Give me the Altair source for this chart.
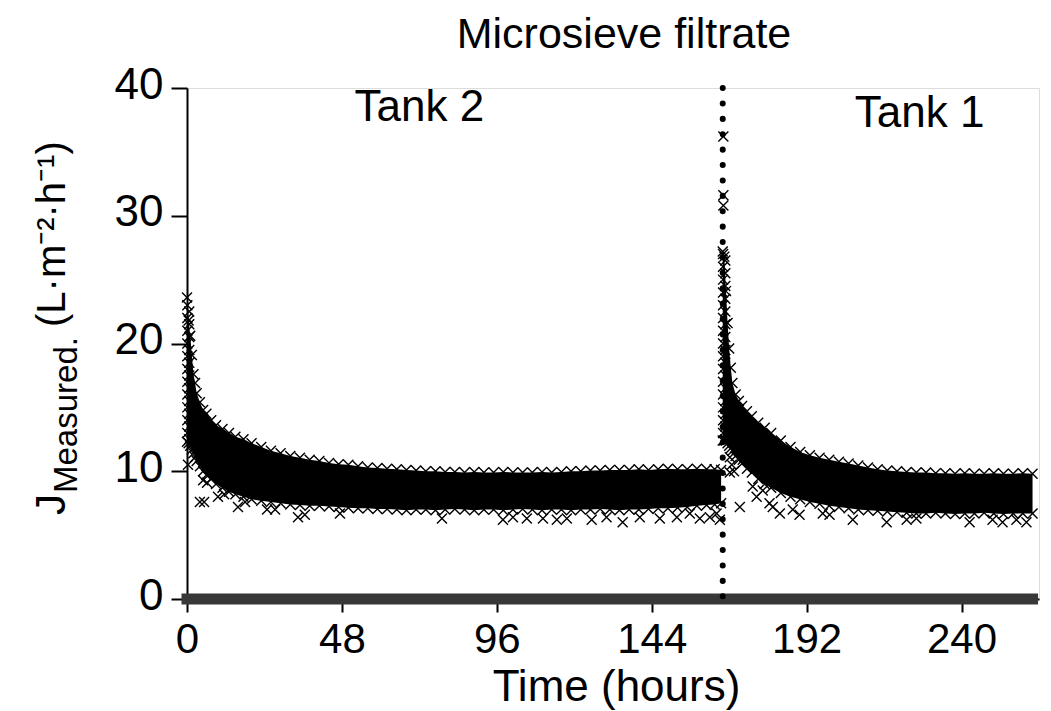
import altair as alt
import pandas as pd

# ---------------- data ----------------
# Tank 2 run (hours): band of measured flux, upper / lower edge (marker centres)
t2_time  = [0, 0.5, 1, 1.5, 2, 2.5, 3, 4, 5, 6, 7.5, 9, 11, 13, 15, 17.5, 20, 23, 26, 29,
            32, 35, 38, 41, 44, 47, 50, 53, 56, 59, 62, 65, 68, 71, 74, 77, 80, 83, 86, 89, 92, 95,
            98, 101, 104, 107, 110, 113, 116, 119, 122, 125, 128, 131, 134, 137, 140, 143, 146, 149,
            152, 155, 158, 161, 163.5, 165.5]
t2_upper = [23.6, 21.8, 20.6, 19.1, 17.6, 16.9, 16.1, 15.4, 14.8, 14.5, 14.0, 13.6, 13.3, 13.0, 12.7,
            12.5, 12.2, 11.9, 11.6, 11.4,
            11.2, 11.05, 10.9, 10.8, 10.65, 10.55, 10.5, 10.4, 10.3, 10.25, 10.2, 10.15, 10.1, 10.05,
            10.0, 10.0, 9.95, 9.95, 9.9, 9.95, 9.9, 9.9, 9.95, 9.9, 9.9, 9.9, 9.95, 9.9, 9.95, 10.0,
            10.0, 10.05, 10.05, 10.1, 10.1, 10.1, 10.15, 10.1, 10.15, 10.2, 10.15, 10.15, 10.2, 10.15,
            10.15, 10.1]
t2_lower = [12.3, 12.2, 12.0, 11.7, 11.4, 11.1, 10.8, 10.4, 10.0, 9.7, 9.4, 9.0, 8.7, 8.4, 8.2, 8.0,
            7.8, 7.7, 7.6, 7.5,
            7.4, 7.35, 7.3, 7.3, 7.25, 7.2, 7.15, 7.1, 7.1, 7.05, 7.05, 7.0, 6.95, 7.0, 7.0, 6.95, 7.0,
            7.05, 7.0, 6.95, 7.0, 7.0, 6.95, 7.0, 7.05, 7.0, 6.95, 7.0, 7.0, 6.95, 7.0, 7.0, 7.05, 7.0,
            6.95, 7.0, 7.0, 7.05, 7.1, 7.1, 7.15, 7.2, 7.3, 7.35, 7.4, 7.5]

# Tank 1 run
t1_time  = [166, 166.5, 167, 167.5, 168, 168.5, 169, 170, 171, 172, 173.5, 175, 177, 179, 181, 184,
            187, 190, 193, 196, 199, 202, 205, 208, 211, 214, 217, 220, 223, 226, 229, 232, 235, 238,
            241, 244, 247, 250, 253, 256, 259, 262]
t1_upper = [27.2, 26.8, 24.1, 21.6, 19.6, 18.1, 16.9, 16.0, 15.5, 15.1, 14.7, 14.3, 13.8, 13.4, 13.0,
            12.4, 11.9, 11.5, 11.25, 11.05, 10.9, 10.75, 10.6, 10.45, 10.3, 10.15, 10.05, 10.0, 9.95,
            9.9, 9.9, 9.85, 9.85, 9.8, 9.85, 9.8, 9.8, 9.85, 9.8, 9.8, 9.85, 9.8]
t1_lower = [12.4, 12.4, 12.4, 12.2, 12.0, 11.8, 11.6, 11.2, 10.9, 10.6, 10.2, 9.9, 9.4, 9.0, 8.7, 8.3,
            8.0, 7.8, 7.6, 7.45, 7.3, 7.2, 7.1, 7.0, 6.95, 6.9, 6.85, 6.8, 6.75, 6.7, 6.7, 6.75, 6.7,
            6.65, 6.7, 6.7, 6.75, 6.7, 6.65, 6.7, 6.7, 6.7]

# dense columns of readings right after each start
col2_time = [0.1] * 11 + [0.7] * 11
col2_flux = [23, 22, 21, 20, 19, 18, 17, 16, 15, 14, 13, 22.5, 21.5, 20.5, 19.5, 18.5, 17.5, 16.5,
             15.5, 14.5, 13.5, 12.5]
col1_time = [166.1] * 15 + [166.8] * 15
col1_flux = [27, 26, 25, 24, 23, 22, 21, 20, 19, 18, 17, 16, 15, 14, 13,
             26.5, 25.5, 24.5, 23.5, 22.5, 21.5, 20.5, 19.5, 18.5, 17.5, 16.5, 15.5, 14.5, 13.5, 12.5]

# scattered single readings
out_time = [0.3, 5.0, 6.2, 4.0, 5.3, 9.6, 11.5, 15.8, 18.0, 24.8, 27.3, 34.4, 36.5, 47.4, 79.0, 97.9, 101.0,
            105.3, 110.3, 114.6, 117.7, 125.4, 130.0, 135.0, 140.3, 146.5, 151.8, 155.8, 158.9, 162.0, 164.1,
            165.1, 166.2, 166.2, 166.2, 168.2, 170.3, 172.2, 168.2, 168.8, 169.5, 171.3, 175.3, 176.5, 178.4,
            180.5, 181.5, 183.7, 187.7, 189.8, 197.0, 199.1, 206.3, 216.8, 223.0, 226.0, 242.5, 249.6, 252.7,
            257.0, 260.1]
out_flux = [10.5, 9.3, 9.1, 7.6, 7.6, 8.0, 8.2, 7.2, 7.6, 7.0, 7.0, 6.4, 6.6, 6.7, 6.3, 6.2, 6.4, 6.3, 6.3,
            6.2, 6.3, 6.2, 6.4, 6.0, 6.4, 6.3, 6.4, 6.7, 6.3, 6.4, 6.7, 6.2, 36.2, 31.6, 30.8, 11.1, 11.7,
            10.9, 9.9, 10.5, 10.0, 7.2, 8.8, 8.0, 8.5, 7.5, 7.2, 6.7, 7.0, 6.6, 6.7, 6.6, 6.2, 6.0, 6.2, 6.3,
            6.0, 6.2, 6.0, 6.2, 6.0]

# readings at zero flux over the whole run
zero_start, zero_end = 0, 262
tank_switch = 166
labels_text = ["Tank 2", "Tank 1"]
labels_time = [72, 227]
labels_flux = [38.4, 38.0]

X_TICKS = [0, 48, 96, 144, 192, 240]
Y_TICKS = [0, 10, 20, 30, 40]

# ---------------- build tables ----------------
band2 = pd.DataFrame({"t": t2_time, "hi": t2_upper, "lo": t2_lower})
band1 = pd.DataFrame({"t": t1_time, "hi": t1_upper, "lo": t1_lower})
edges = pd.DataFrame({
    "t": t2_time + t2_time + t1_time + t1_time + col2_time + col1_time + out_time,
    "v": t2_upper + t2_lower + t1_upper + t1_lower + col2_flux + col1_flux + out_flux,
})
zero = pd.DataFrame({"t": [zero_start], "t2": [zero_end], "v": [0]})
switch = pd.DataFrame({"t": [tank_switch], "v": [40], "v2": [0]})
labels = pd.DataFrame({"t": labels_time, "v": labels_flux, "txt": labels_text})

FONT = "Liberation Sans"
xs = alt.Scale(domain=[0, 264], nice=False, zero=False)
ys = alt.Scale(domain=[0, 40], nice=False)

x_axis = alt.Axis(
    values=X_TICKS, title="Time (hours)", titleFont=FONT, titleFontSize=44, titleFontWeight="normal",
    titleX=429, titleY=101, titleBaseline="alphabetic", titleAlign="center",
    labelFont=FONT, labelFontSize=42, labelPadding=7, tickSize=13, tickWidth=2, domainWidth=2,
    domainColor="black", tickColor="black", labelColor="black", titleColor="black", grid=False,
    labelFlush=False)
y_axis = alt.Axis(
    values=Y_TICKS, title=None, labelFont=FONT, labelFontSize=44, labelPadding=8, tickSize=16,
    tickWidth=2, domainWidth=2, domainColor="black", tickColor="black", labelColor="black",
    grid=False, labelOffset=-3, labelFlush=False)

XMARK = "M-1,-1L1,1M-1,1L1,-1"

area2 = alt.Chart(band2).mark_area(color="black", opacity=1).encode(
    x=alt.X("t:Q", scale=xs, axis=x_axis),
    y=alt.Y("hi:Q", scale=ys, axis=y_axis), y2="lo:Q")
area1 = alt.Chart(band1).mark_area(color="black", opacity=1).encode(x="t:Q", y="hi:Q", y2="lo:Q")

pts = alt.Chart(edges).mark_point(shape=XMARK, size=100, filled=False, stroke="black",
                                   strokeWidth=1.4, opacity=1).encode(x="t:Q", y="v:Q")

zrow = alt.Chart(zero).mark_rule(color="#383838", strokeWidth=11, strokeCap="square").encode(
    x="t:Q", x2="t2:Q", y="v:Q")

dots = alt.Chart(switch).mark_rule(color="black", strokeWidth=6, strokeCap="round",
                                    strokeDash=[0.1, 15.3]).encode(x="t:Q", y="v:Q", y2="v2:Q")

tank_lbl = alt.Chart(labels).mark_text(font=FONT, fontSize=44, color="black", baseline="middle",
                                       align="center").encode(x="t:Q", y="v:Q", text="txt:N")

# chart title and composed y-axis title (pixel positions relative to plot origin 187,88)
def txt(s, x, y, size, angle=0, align="left", baseline="alphabetic"):
    d = pd.DataFrame({"s": [s]})
    return alt.Chart(d).mark_text(font=FONT, fontSize=size, color="black", angle=angle, align=align,
                                  baseline=baseline).encode(x=alt.value(x), y=alt.value(y), text="s:N")

title = txt("Microsieve filtrate", 437, -53, 43, align="center", baseline="middle")
MB = 65 - 187   # main baseline x of the rotated y title
ytitle = [
    txt("J", MB, 515 - 88, 42, angle=270),
    txt("Measured.", MB + 12, 493 - 88, 33, angle=270),
    txt("(L·m⁻²·h⁻¹)", MB, 327 - 88, 40, angle=270),
]

chart = alt.layer(area2, area1, pts, zrow, dots, tank_lbl, title, *ytitle).properties(
    width=852, height=511,
    autosize=alt.AutoSizeParams(type="none"),
    padding={"left": 179, "top": 80, "right": 4, "bottom": 112},
).configure_view(stroke=None).configure(background="white")

chart.save("out.html", embed_options={"renderer": "svg", "actions": False})
